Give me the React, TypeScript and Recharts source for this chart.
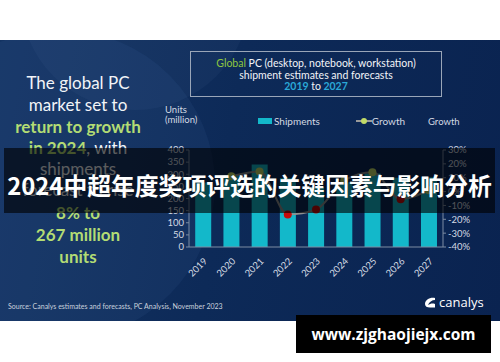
import React from 'react';
import { ComposedChart, Bar, Line, XAxis, YAxis, Legend } from 'recharts';

const years = ['2019', '2020', '2021', '2022', '2023', '2024', '2025', '2026', '2027'];
const shipments = [266, 297, 340, 285, 247, 267, 303, 286, 288];
const growth: (number | null)[] = [null, 11, 14.5, -16.5, -13, 8, 14, -5.5, 1];
const unitTicks = [0, 50, 100, 150, 200, 250, 300, 350, 400];
const growthTicks = [-40, -30, -20, -10, 0, 10, 20, 30];

const data = years.map((year, i) => ({ year, shipments: shipments[i], growth: growth[i] }));

const FONT = 'Lato, "Open Sans", sans-serif';
const CYAN = '#13b8ca';
const LIME = '#c2db68';
const GREENTXT = '#b3dc74';
const AXIS = '#d3d9e2';

function GrowthDot(props: any) {
  const { cx, cy, value } = props;
  if (value == null || cx == null || cy == null) return null;
  return <circle cx={cx} cy={cy} r={4} fill={value >= 0 ? LIME : '#c40c0c'} stroke="none" />;
}

function LegendBox() {
  return (
    <div style={{ display: 'flex', alignItems: 'center', fontFamily: FONT, fontSize: 10, color: AXIS }}>
      <span style={{ display: 'inline-block', width: 14, height: 6, background: CYAN, marginRight: 2 }} />
      <span>Shipments</span>
      <span style={{ position: 'relative', display: 'inline-block', width: 16, height: 8, marginLeft: 36 }}>
        <span style={{ position: 'absolute', left: 0, top: 3, width: 16, height: 2, background: '#9a9a9a' }} />
        <span style={{ position: 'absolute', left: 5, top: 1, width: 6, height: 6, borderRadius: 3, background: LIME }} />
      </span>
      <span>Growth</span>
    </div>
  );
}

export default function App() {
  const abs = (s: React.CSSProperties): React.CSSProperties => ({ position: 'absolute', ...s });
  const leftLine = (text: React.ReactNode, top: number) => (
    <div style={abs({ left: 0, width: 156, top, textAlign: 'center', fontSize: 17, lineHeight: '20px', whiteSpace: 'nowrap' })}>{text}</div>
  );
  const g = (t: string) => <span style={{ color: GREENTXT, fontWeight: 700 }}>{t}</span>;

  return (
    <div style={abs({ left: 0, top: 0, width: 500, height: 362, background: '#fff', overflow: 'hidden', fontFamily: FONT })}>
      <div
        style={abs({
          left: 0, top: 40, width: 500, height: 281, overflow: 'hidden',
          background: 'linear-gradient(100deg, #143463 0%, #0d2a58 45%, #0a2350 100%)',
        })}
      >
        <div style={abs({ left: -95, top: -10, width: 310, height: 310, borderRadius: '50%', background: 'rgba(80,120,180,0.10)' })} />
        <div style={abs({ left: 20, top: -160, width: 230, height: 230, borderRadius: '50%', background: 'rgba(120,160,210,0.06)' })} />
      </div>

      {/* left commentary */}
      <div style={abs({ left: 0, top: 40, width: 160, color: '#f2f4f8' })}>
        {leftLine('The global PC', 33)}
        {leftLine('market set to', 55)}
        {leftLine(g('return to growth'), 77)}
        {leftLine(<>{g('in 2024')}, with</>, 98)}
        {leftLine('shipments', 119)}
        {leftLine('forecast to rise', 140)}
        {leftLine(g('8% to'), 163)}
        {leftLine(g('267 million'), 185)}
        {leftLine(g('units'), 207)}
      </div>

      {/* title box */}
      <div
        style={abs({
          left: 190, top: 51, width: 252, height: 46, border: '1px solid #9aa6b8',
          textAlign: 'center', color: '#f2f4f8', fontSize: 10.5, lineHeight: '11.5px', paddingTop: 6, boxSizing: 'border-box',
        })}
      >
        <div><span style={{ color: '#8ec63f' }}>Global</span> PC (desktop, notebook, workstation)</div>
        <div>shipment estimates and forecasts</div>
        <div style={{ fontWeight: 700 }}>
          <span style={{ color: '#2aa8d8' }}>2019</span> <span style={{ color: '#f2f4f8', fontWeight: 400 }}>to</span>{' '}
          <span style={{ color: '#2aa8d8' }}>2027</span>
        </div>
      </div>

      <div style={abs({ left: 165, top: 105, color: AXIS, fontSize: 9.5, lineHeight: '10px' })}>
        Units<br />(million)
      </div>
      <div style={abs({ left: 428, top: 116, color: AXIS, fontSize: 9.5 })}>Growth</div>

      <div style={abs({ left: 0, top: 0 })}>
        <ComposedChart width={500} height={362} data={data} margin={{ top: 138, right: 17, bottom: 75, left: 150 }} barCategoryGap="22%">
          <Legend verticalAlign="top" content={() => <LegendBox />} wrapperStyle={{ position: 'absolute', left: 258, top: 115, width: 160 }} />
          <XAxis
            dataKey="year"
            height={40}
            interval={0}
            tickLine={false}
            stroke="#7d8ca3"
            tick={{ fill: AXIS, fontSize: 9.5, fontFamily: FONT }}
            angle={-45}
            textAnchor="end"
            dy={2}
          />
          <YAxis
            yAxisId="units"
            width={39}
            domain={[0, 400]}
            ticks={unitTicks}
            interval={0}
            stroke="#7d8ca3"
            tickSize={3}
            tick={{ fill: AXIS, fontSize: 9.5, fontFamily: FONT }}
          />
          <YAxis
            yAxisId="growth"
            orientation="right"
            width={40}
            domain={[-40, 30]}
            ticks={growthTicks}
            interval={0}
            stroke="#7d8ca3"
            tickSize={3}
            tickFormatter={(v: number) => `${v}%`}
            tick={{ fill: AXIS, fontSize: 9.5, fontFamily: FONT }}
          />
          <Bar yAxisId="units" dataKey="shipments" fill={CYAN} isAnimationActive={false} />
          <Line
            yAxisId="growth"
            type="monotone"
            dataKey="growth"
            stroke="#8f8f8f"
            strokeWidth={2}
            dot={<GrowthDot />}
            activeDot={false}
            connectNulls
            isAnimationActive={false}
          />
        </ComposedChart>
      </div>

      <div style={abs({ left: 8, top: 302, color: '#c9d1dd', fontSize: 7 })}>
        Source: Canalys estimates and forecasts, PC Analysis, November 2023
      </div>
      <div style={abs({ left: 424, top: 293, display: 'flex', alignItems: 'center', color: '#fff', fontSize: 13, fontFamily: '"Open Sans", sans-serif' })}>
        <svg width={12} height={11} viewBox="0 0 12 11" style={{ marginRight: 3 }}>
          <path d="M11 1 C6 0 1 3 1 7 C1 9.5 3 10.5 6 10.5 L11 10.5 L11 7 C8 6 6 7 4 8 C5 5 8 3 11 3 Z" fill="#fff" />
        </svg>
        canalys
      </div>

      {/* overlay banner */}
      <div
        style={abs({
          left: 4, top: 148, width: 491, height: 65, background: 'rgba(0,0,0,0.62)',
          display: 'flex', alignItems: 'center', justifyContent: 'center', paddingTop: 8, boxSizing: 'border-box',
          color: '#fff', fontWeight: 700, fontSize: 23.8, fontFamily: '"Noto Sans CJK SC", "Noto Sans", sans-serif', whiteSpace: 'nowrap',
        })}
      >
        2024中超年度奖项评选的关键因素与影响分析
      </div>

      <div
        style={abs({
          left: 296, top: 315, width: 195, height: 38, background: '#000', color: '#fff',
          display: 'flex', alignItems: 'center', justifyContent: 'center',
          fontWeight: 700, fontSize: 15.5, fontFamily: '"Open Sans", sans-serif',
        })}
      >
        www.zjghaojiejx.com
      </div>
    </div>
  );
}
